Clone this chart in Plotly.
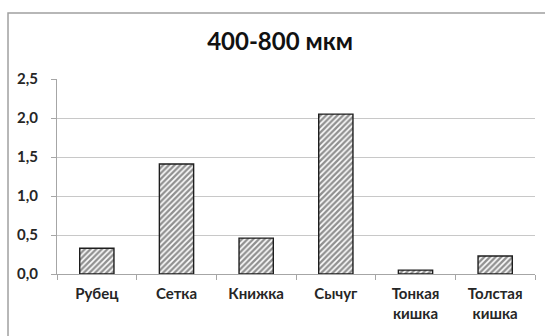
import plotly.graph_objects as go

# -----------------------------------------------------------
# Data
# -----------------------------------------------------------
categories = ["Рубец", "Сетка", "Книжка", "Сычуг", "Тонкая<br>кишка", "Толстая<br>кишка"]
values = [0.33, 1.41, 0.46, 2.05, 0.05, 0.23]
y_ticks = [0.0, 0.5, 1.0, 1.5, 2.0, 2.5]
y_tick_labels = ["0,0", "0,5", "1,0", "1,5", "2,0", "2,5"]

# -----------------------------------------------------------
# Figure
# -----------------------------------------------------------
fig = go.Figure()

fig.add_trace(go.Bar(
    x=categories,
    y=values,
    marker=dict(
        color="white",
        line=dict(color="#1e1e1e", width=1.4),
        pattern=dict(shape="/", fgcolor="#222222", bgcolor="white",
                     size=4, solidity=0.6),
    ),
))

# outer chart border (left + top only visible in the crop)
fig.add_shape(
    type="rect", xref="paper", yref="paper",
    x0=-0.1025, x1=1.1, y0=-0.5, y1=1.338,
    line=dict(color="#a0a0a0", width=1.5),
    fillcolor="rgba(0,0,0,0)", layer="below",
)

fig.update_layout(
    width=545,
    height=336,
    margin=dict(l=57, r=10, t=79, b=62),
    paper_bgcolor="white",
    plot_bgcolor="white",
    showlegend=False,
    bargap=0.57,
    font=dict(family="Lato, Open Sans, sans-serif", color="#262626"),
    title=dict(
        text="<b>400-800 мкм</b>",
        x=280 / 545, xref="container", xanchor="center",
        y=1 - 42 / 336, yref="container", yanchor="middle",
        font=dict(size=24, color="#111111"),
    ),
)

fig.update_xaxes(
    showline=True, linecolor="#a6a6a6", linewidth=1.2,
    ticks="outside", tickson="boundaries", ticklen=5, tickcolor="#a6a6a6",
    tickfont=dict(size=15, color="#262626"),
    ticklabelstandoff=6,
    showgrid=False,
    tickvals=categories,
    ticktext=[f"<b>{c}</b>" for c in categories],
)

fig.update_yaxes(
    range=[0, 2.5],
    tickvals=y_ticks,
    ticktext=[f"<b>{t}</b>" for t in y_tick_labels],
    showline=True, linecolor="#a6a6a6", linewidth=1.2,
    ticks="outside", ticklen=5, tickcolor="#a6a6a6",
    ticklabelstandoff=10,
    showgrid=True, gridcolor="#c8c8c8", gridwidth=1.2,
    zeroline=False,
    tickfont=dict(size=15, color="#262626"),
)

fig.write_html("out.html", config={"displayModeBar": False},
               post_script="document.body.style.margin='0';")
